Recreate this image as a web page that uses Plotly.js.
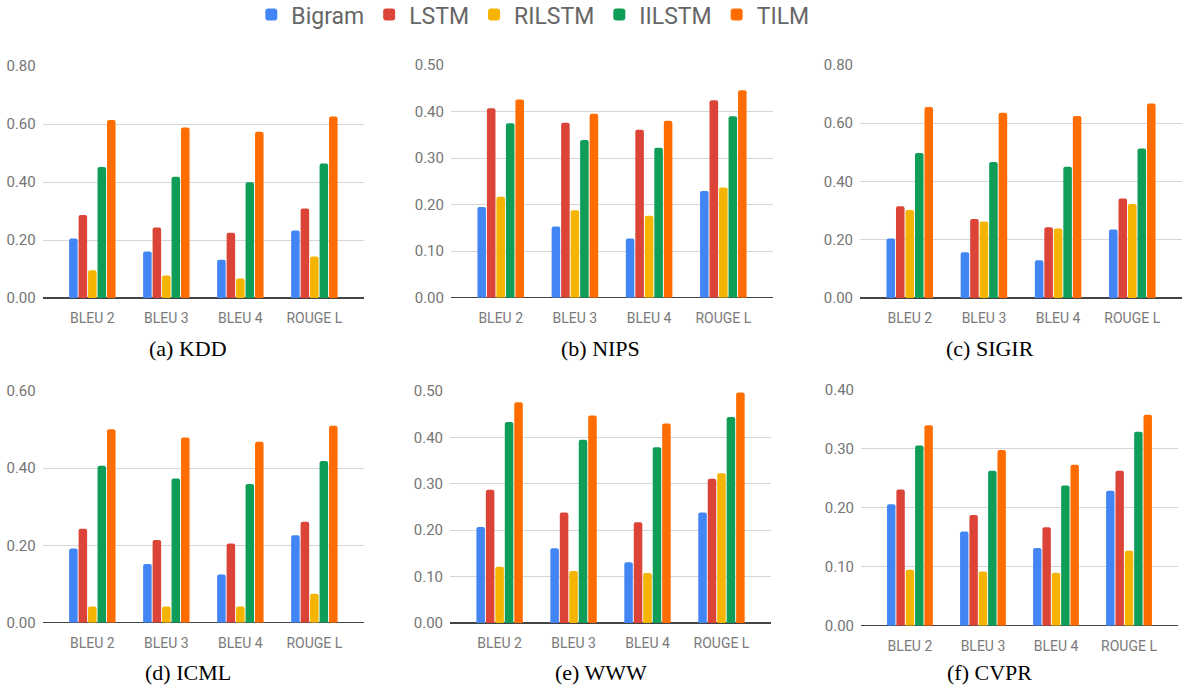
<!DOCTYPE html>
<html>
<head>
<meta charset="utf-8">
<script src="https://cdn.plot.ly/plotly-3.0.1.min.js"></script>
<style>html,body{margin:0;padding:0;background:#fff;}#chart{width:1184px;height:690px;}</style>
</head>
<body>
<div id="chart"></div>
<script>
const categories = ["BLEU 2", "BLEU 3", "BLEU 4", "ROUGE L"];
const seriesNames = ["Bigram", "LSTM", "RILSTM", "IILSTM", "TILM"];
const seriesColors = ["#4285F4", "#DB4437", "#F4B400", "#0F9D58", "#FF6D01"];

// rows: Bigram, LSTM, RILSTM, IILSTM, TILM ; columns: BLEU 2, BLEU 3, BLEU 4, ROUGE L
const KDD = [
  [0.205, 0.160, 0.132, 0.233],
  [0.286, 0.243, 0.225, 0.309],
  [0.096, 0.078, 0.067, 0.143],
  [0.452, 0.418, 0.399, 0.464],
  [0.614, 0.588, 0.573, 0.626]
];
const NIPS = [
  [0.195, 0.153, 0.127, 0.229],
  [0.407, 0.376, 0.361, 0.424],
  [0.217, 0.188, 0.176, 0.237],
  [0.375, 0.339, 0.322, 0.390],
  [0.426, 0.395, 0.380, 0.446]
];
const SIGIR = [
  [0.204, 0.157, 0.130, 0.235],
  [0.315, 0.271, 0.243, 0.342],
  [0.302, 0.263, 0.239, 0.323],
  [0.498, 0.467, 0.451, 0.513],
  [0.656, 0.636, 0.625, 0.668]
];
const ICML = [
  [0.192, 0.152, 0.125, 0.226],
  [0.243, 0.214, 0.205, 0.261],
  [0.042, 0.042, 0.042, 0.075],
  [0.406, 0.373, 0.359, 0.418],
  [0.500, 0.479, 0.468, 0.509]
];
const WWW = [
  [0.207, 0.161, 0.131, 0.238],
  [0.287, 0.238, 0.217, 0.311],
  [0.121, 0.112, 0.108, 0.323],
  [0.433, 0.395, 0.379, 0.444],
  [0.476, 0.447, 0.430, 0.497]
];
const CVPR = [
  [0.206, 0.160, 0.132, 0.229],
  [0.231, 0.188, 0.167, 0.263],
  [0.095, 0.092, 0.090, 0.127],
  [0.306, 0.263, 0.238, 0.329],
  [0.340, 0.298, 0.273, 0.358]
];

const panels = [
  {data: KDD,   caption: "(a) KDD",   ymax: 0.8, dtick: 0.2, xd: [0.0361, 0.3074], yd: [0.5681, 0.9043]},
  {data: NIPS,  caption: "(b) NIPS",  ymax: 0.5, dtick: 0.1, xd: [0.3809, 0.6529], yd: [0.5686, 0.9058]},
  {data: SIGIR, caption: "(c) SIGIR", ymax: 0.8, dtick: 0.2, xd: [0.7264, 0.9983], yd: [0.5681, 0.9058]},
  {data: ICML,  caption: "(d) ICML",  ymax: 0.6, dtick: 0.2, xd: [0.0361, 0.3074], yd: [0.0975, 0.4338]},
  {data: WWW,   caption: "(e) WWW",   ymax: 0.5, dtick: 0.1, xd: [0.3801, 0.6512], yd: [0.0971, 0.4333]},
  {data: CVPR,  caption: "(f) CVPR",  ymax: 0.4, dtick: 0.1, xd: [0.7272, 0.9949], yd: [0.0932, 0.4348]}
];

const traces = [];
const layout = {
  width: 1184, height: 690,
  margin: {l: 0, r: 0, t: 0, b: 0, autoexpand: false},
  paper_bgcolor: "#ffffff", plot_bgcolor: "rgba(0,0,0,0)",
  barmode: "group", bargap: 0.36, bargroupgap: 0.1,
  barcornerradius: 2,
  showlegend: true,
  legend: {orientation: "h", x: 0.45, xanchor: "center", y: 1.01, yanchor: "top",
           font: {family: "Roboto", size: 23, color: "#666666"}, itemwidth: 30, tracegroupgap: 0},
  annotations: [],
  font: {family: "Roboto"}
};

panels.forEach((p, i) => {
  const n = i + 1;
  const xa = n === 1 ? "x" : "x" + n;
  const ya = n === 1 ? "y" : "y" + n;
  const xkey = n === 1 ? "xaxis" : "xaxis" + n;
  const ykey = n === 1 ? "yaxis" : "yaxis" + n;
  seriesNames.forEach((name, s) => {
    traces.push({
      type: "bar", name: name, x: categories, y: p.data[s],
      xaxis: xa, yaxis: ya,
      marker: {color: seriesColors[s]},
      showlegend: i === 0, legendgroup: name,
      hoverinfo: "y+name"
    });
  });
  layout[xkey] = {
    domain: p.xd, anchor: ya, type: "category", range: [-0.67, 3.67],
    showgrid: false, zeroline: false, showline: false, ticks: "", automargin: false,
    tickfont: {family: "Roboto", size: 14, color: "#7a7a7a"}, ticklabelstandoff: 10, fixedrange: true
  };
  layout[ykey] = {
    domain: p.yd, anchor: xa, range: [0, p.ymax], dtick: p.dtick, tick0: 0, tickformat: ".2f",
    showgrid: true, gridcolor: "#d6d6d6", gridwidth: 1,
    zeroline: true, zerolinecolor: "#444444", zerolinewidth: 1.5,
    showline: false, ticks: "", automargin: false,
    tickfont: {family: "Roboto", size: 15, color: "#757575"}, ticklabelstandoff: 6, fixedrange: true
  };
  const cx = [0.1592, 0.5076, 0.8361][i % 3];
  const cy = i < 3 ? 1 - 348 / 690 : 1 - 672 / 690;
  layout.annotations.push({
    text: p.caption, xref: "paper", yref: "paper", x: cx, y: cy,
    xanchor: "center", yanchor: "middle", showarrow: false,
    font: {family: "Liberation Serif", size: 22, color: "#000000"}
  });
});

Plotly.newPlot("chart", traces, layout, {displayModeBar: false, staticPlot: true});
</script>
</body>
</html>
